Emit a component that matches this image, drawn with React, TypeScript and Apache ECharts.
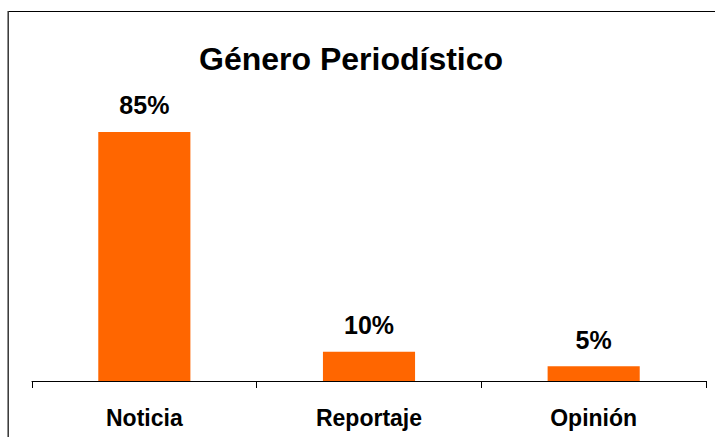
import React, { useEffect, useRef } from "react";
import * as echarts from "echarts";

const titleText = "Género Periodístico";
const categories = ["Noticia", "Reportaje", "Opinión"];
const values = [85, 10, 5];

export default function App() {
  const ref = useRef<HTMLDivElement>(null);
  useEffect(() => {
    if (!ref.current) return;
    const chart = echarts.init(ref.current, undefined, { renderer: "svg" });
    const font = "'Liberation Sans', Arial, sans-serif";
    chart.setOption({
      animation: false,
      backgroundColor: "#ffffff",
      title: {
        text: titleText,
        left: 199,
        top: 43,
        padding: 0,
        textStyle: { fontFamily: font, fontWeight: "bold", fontSize: 32, color: "#000" },
      },
      grid: { left: 32, right: 9, top: 88, bottom: 56, containLabel: false },
      xAxis: {
        type: "category",
        data: categories,
        axisLine: { lineStyle: { color: "#000", width: 1 } },
        axisTick: { show: true, length: 7, lineStyle: { color: "#000" } },
        axisLabel: {
          margin: 25,
          fontFamily: font,
          fontWeight: "bold",
          fontSize: 23,
          color: "#000",
        },
      },
      yAxis: {
        type: "value",
        min: 0,
        max: 100,
        show: false,
        splitLine: { show: false },
      },
      series: [
        {
          type: "bar",
          data: values,
          barWidth: "41%",
          itemStyle: { color: "#FF6600" },
          label: {
            show: true,
            position: "top",
            distance: 14,
            formatter: "{c}%",
            fontFamily: font,
            fontWeight: "bold",
            fontSize: 25,
            color: "#000",
          },
        },
      ],
      graphic: [
        {
          type: "line",
          shape: { x1: 8, y1: 11.5, x2: 715, y2: 11.5 },
          style: { stroke: "#000", lineWidth: 1 },
        },
        {
          type: "line",
          shape: { x1: 8.2, y1: 11, x2: 8.2, y2: 437 },
          style: { stroke: "#333", lineWidth: 1.5 },
        },
      ],
    });
    return () => chart.dispose();
  }, []);
  return (
    <div
      ref={ref}
      style={{ position: "fixed", left: 0, top: 0, width: 715, height: 437 }}
    />
  );
}
